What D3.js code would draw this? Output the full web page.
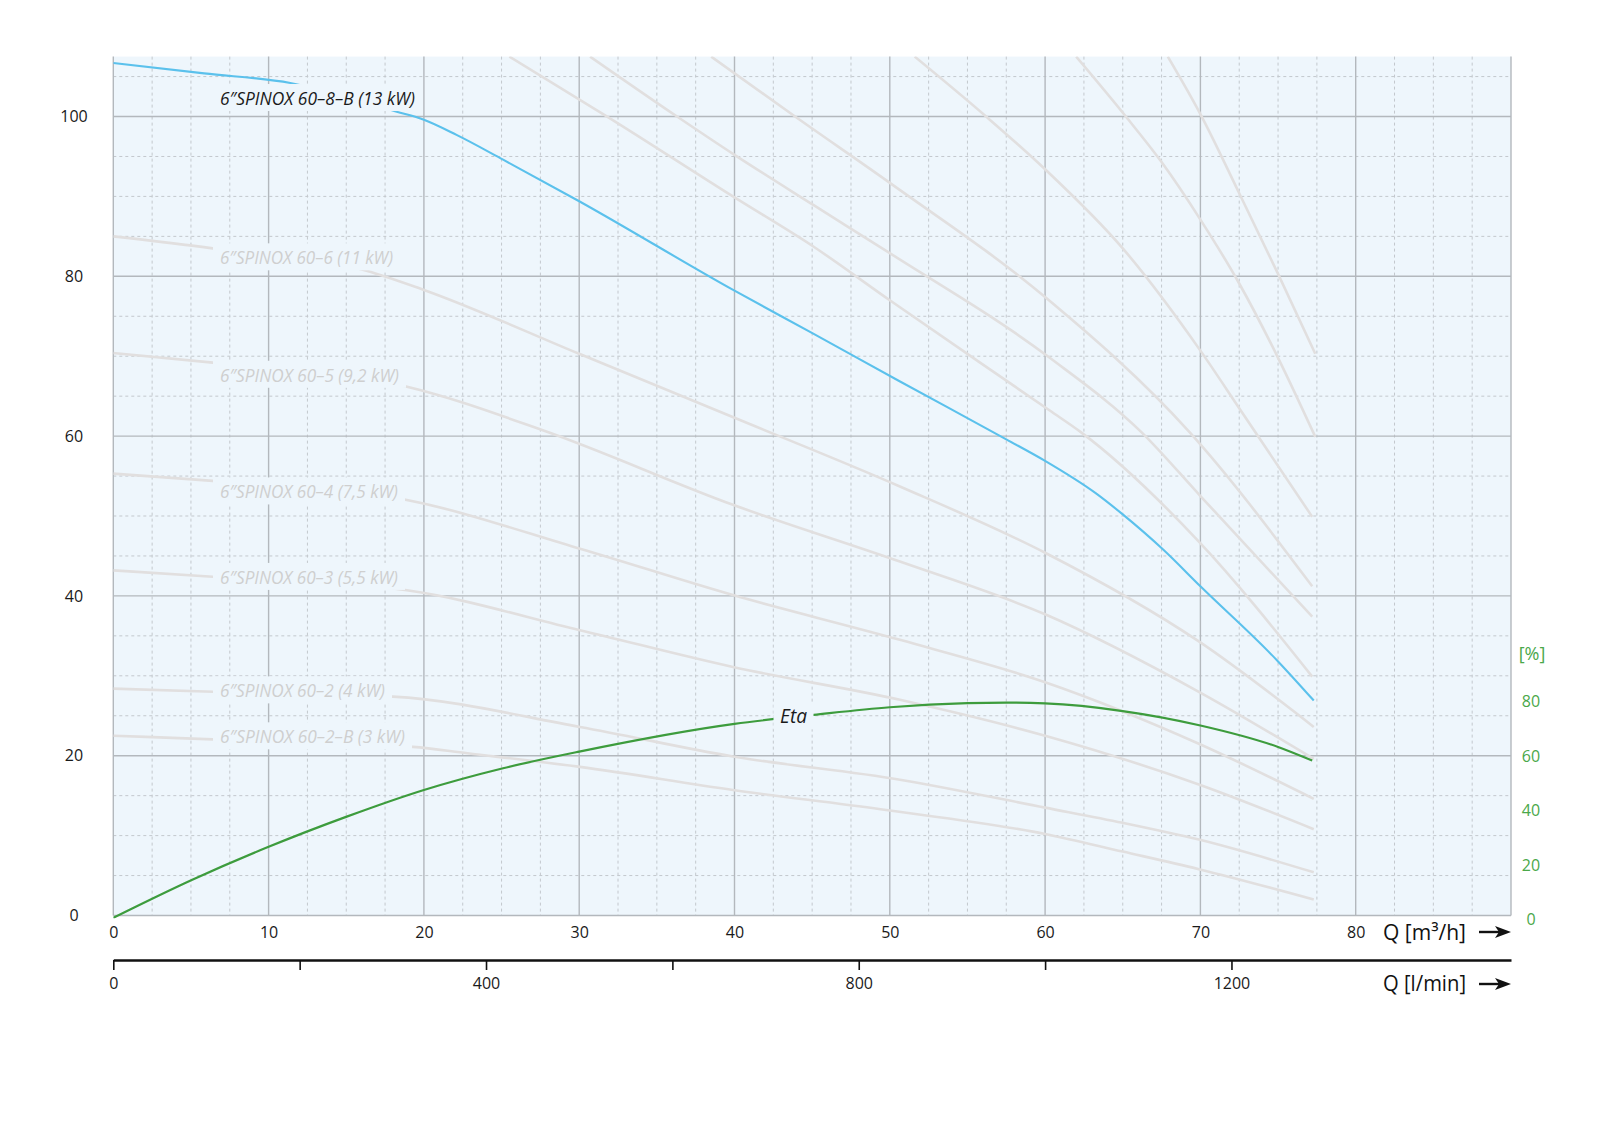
<!DOCTYPE html>
<html><head><meta charset="utf-8">
<script src="https://cdn.jsdelivr.net/npm/d3@7"></script>
<style>
body{margin:0;background:#fff;}
svg{display:block;}
text{font-family:"Open Sans","Noto Sans",sans-serif;}
</style></head><body>
<svg id="chart" width="1600" height="1143"></svg>
<script>
// ---------------- DATA ----------------
const qTicks = [0, 10, 20, 30, 40, 50, 60, 70, 80];          // m3/h
const hTicks = [0, 20, 40, 60, 80, 100];                      // m
const etaTicks = [0, 20, 40, 60, 80];                         // %
const lminTicks = [0, 200, 400, 600, 800, 1000, 1200];        // l/min
const lminLabels = ["0", "", "400", "", "800", "", "1200"];

// labelled grey curves (Q m3/h, H m)
const q_60_2B = [0, 6.4, 19.3, 22.8, 30.05, 39.9, 49.4, 60, 65, 69.9, 77.3];
const h_60_2B = [22.5, 22.05, 21.1, 20.3, 18.6, 15.7, 13.3, 10.2, 8.0, 5.8, 2.0];
const q_60_2 = [0, 6.4, 18.0, 30.05, 39.9, 50.65, 60, 65, 69.9, 77.3];
const h_60_2 = [28.4, 28.0, 27.4, 23.6, 19.9, 17.0, 13.5, 11.6, 9.5, 5.4];
const q_60_3 = [0, 6.4, 18.9, 30.05, 39.9, 50.65, 60, 69.9, 77.3];
const h_60_3 = [43.2, 42.4, 40.7, 35.7, 31.1, 27.0, 22.5, 16.4, 10.8];
const q_60_4 = [0, 6.4, 18.9, 30.05, 39.9, 50.65, 60, 69.9, 77.3];
const h_60_4 = [55.3, 54.4, 52.0, 45.9, 40.1, 34.5, 29.2, 21.5, 14.6];
const q_60_5 = [0, 6.4, 18.85, 27.7, 39.9, 50.65, 60, 69.9, 77.3];
const h_60_5 = [70.4, 69.2, 66.2, 60.7, 51.4, 44.3, 37.7, 28.0, 19.6];
const q_60_6 = [0, 6.4, 16.3, 20, 30, 40, 50.65, 60, 69.9, 77.3];
const h_60_6 = [85.0, 83.5, 80.7, 78.3, 70.3, 62.3, 53.7, 45.4, 34.3, 23.6];

// unlabelled grey curves entering from the top
const q_top1 = [25.5, 31.8, 39.9, 45.1, 50, 60.3, 62.3, 69.9, 77.2];
const h_top1 = [107.5, 100, 90.0, 83.7, 77.0, 63.2, 60.5, 46.8, 29.9];
const q_top2 = [30.7, 36.3, 40, 45.1, 50, 60.3, 66.2, 70, 77.2];
const h_top2 = [107.5, 100, 95.2, 88.9, 82.9, 69.8, 60.5, 52.5, 37.4];
const q_top3 = [38.5, 43.9, 50, 60, 69.3, 77.2];
const h_top3 = [107.5, 100, 91.7, 77.4, 60.5, 41.2];
const q_top4 = [51.6, 56.2, 60, 65, 70, 72.5, 77.2];
const h_top4 = [107.5, 100, 93.4, 83.5, 70.7, 63.5, 49.9];
const q_top5 = [62, 65.2, 67.5, 70, 72.5, 75, 77.4];
const h_top5 = [107.5, 100, 94.3, 87.1, 79.1, 69.8, 59.9];
const q_top6 = [67.9, 70, 72.5, 75, 77.4];
const h_top6 = [107.5, 100.3, 90.4, 80.3, 70.3];

// highlighted pump 60-8-B
const q_60_8B = [0, 5.85, 11.4, 18.25, 20, 22.1, 25.1, 30, 40, 45.1, 50.6, 57.5, 60, 63.3, 65, 67.6, 70, 75, 77.3];
const h_60_8B = [106.7, 105.4, 104.2, 100.6, 99.6, 97.7, 94.6, 89.4, 78.2, 72.8, 66.9, 59.6, 56.9, 52.8, 50.2, 45.8, 41.2, 31.8, 26.9];

// efficiency (%)
const q_eta = [0, 5.05, 10, 15.03, 20, 25.1, 30, 40, 45.1, 50, 55, 57.5, 60, 65, 70, 75, 77.2];
const eta = [0, 13.9, 26.1, 37.2, 47.0, 55.0, 61.1, 71.3, 74.6, 77.4, 78.9, 79.1, 78.8, 76.0, 70.7, 62.8, 57.8];

// curve labels: text, Q anchor, H anchor (baseline)
const labelTexts = ["6″SPINOX 60–8–B (13 kW)", "6″SPINOX 60–6 (11 kW)", "6″SPINOX 60–5 (9,2 kW)",
  "6″SPINOX 60–4 (7,5 kW)", "6″SPINOX 60–3 (5,5 kW)", "6″SPINOX 60–2 (4 kW)", "6″SPINOX 60–2–B (3 kW)"];
const labelQ = [6.87, 6.87, 6.87, 6.87, 6.87, 6.87, 6.87];
const labelH = [101.44, 81.5, 66.8, 52.2, 41.5, 27.3, 21.55];
const etaLabel = "Eta";
const etaLabelQ = 43.8;
const etaLabelPct = 71.5;

// ---------------- STYLE ----------------
const labelWidths = [195, 173, 179, 178, 178, 165, 185];
const labelColors = ["#1a1a1a", "#cfcfcf", "#cfcfcf", "#cfcfcf", "#cfcfcf", "#cfcfcf", "#cfcfcf"];
const bg = "#eef6fc";
const greyCurve = "#e1dfdf";
const blue = "#5bc1ec";
const green = "#3d9c3d";
const greenText = "#4aa84a";

const svg = d3.select("#chart");
const x = d3.scaleLinear().domain([0, 90]).range([113.3, 1511]);
const y = d3.scaleLinear().domain([0, 107.5]).range([915.5, 56.6]);
const yEta = d3.scaleLinear().domain([0, 100]).range([917.8, 645.8]);
const xL = d3.scaleLinear().domain([0, 1500]).range([113.3, 1511]);

svg.append("defs").append("clipPath").attr("id", "plotclip")
  .append("rect").attr("x", x(0)).attr("y", y(107.5)).attr("width", x(90) - x(0)).attr("height", y(0) - y(107.5) + 3);

svg.append("rect").attr("x", x(0)).attr("y", y(107.5)).attr("width", x(90) - x(0)).attr("height", y(0) - y(107.5)).attr("fill", bg);

// grid
const g = svg.append("g");
const minorX = d3.range(0, 90.01, 2.5).filter(v => Math.abs(v % 10) > 0.01);
const majorX = d3.range(0, 90.01, 10);
const minorY = d3.range(0, 107.5, 5).filter(v => v % 20 !== 0);
const majorY = d3.range(0, 100.01, 20);
g.selectAll(".mx").data(minorX).join("line").attr("x1", d => x(d)).attr("x2", d => x(d))
  .attr("y1", y(107.5)).attr("y2", y(0)).attr("stroke", "#c3c8cd").attr("stroke-width", 1).attr("stroke-dasharray", "3,3");
g.selectAll(".my").data(minorY).join("line").attr("y1", d => y(d)).attr("y2", d => y(d))
  .attr("x1", x(0)).attr("x2", x(90)).attr("stroke", "#c3c8cd").attr("stroke-width", 1).attr("stroke-dasharray", "3,3");
g.selectAll(".Mx").data(majorX).join("line").attr("x1", d => x(d)).attr("x2", d => x(d))
  .attr("y1", y(107.5)).attr("y2", y(0)).attr("stroke", "#b3b8bd").attr("stroke-width", 1.4);
g.selectAll(".My").data(majorY).join("line").attr("y1", d => y(d)).attr("y2", d => y(d))
  .attr("x1", x(0)).attr("x2", x(90)).attr("stroke", "#b3b8bd").attr("stroke-width", 1.4);

// curves
const line = d3.line().x(d => x(d[0])).y(d => y(d[1])).curve(d3.curveMonotoneX);
const zip = (a, b) => a.map((v, i) => [v, b[i]]);
const greyCurves = [[q_60_2B, h_60_2B], [q_60_2, h_60_2], [q_60_3, h_60_3], [q_60_4, h_60_4], [q_60_5, h_60_5], [q_60_6, h_60_6],
  [q_top1, h_top1], [q_top2, h_top2], [q_top3, h_top3], [q_top4, h_top4], [q_top5, h_top5], [q_top6, h_top6]];
const cg = svg.append("g").attr("clip-path", "url(#plotclip)");
cg.selectAll(".grey").data(greyCurves).join("path").attr("d", d => line(zip(d[0], d[1])))
  .attr("fill", "none").attr("stroke", greyCurve).attr("stroke-width", 2.6);
cg.append("path").attr("d", line(zip(q_60_8B, h_60_8B))).attr("fill", "none").attr("stroke", blue).attr("stroke-width", 2.1);
const etaLine = d3.line().x(d => x(d[0])).y(d => yEta(d[1])).curve(d3.curveMonotoneX);
cg.append("path").attr("d", etaLine(zip(q_eta, eta))).attr("fill", "none").attr("stroke", green).attr("stroke-width", 2.2);

// labels with knockout
const lg = svg.append("g");
const fs = 19;
labelTexts.forEach((t, i) => {
  const lx = x(labelQ[i]), ly = y(labelH[i]);
  lg.append("rect").attr("x", lx - 7).attr("y", ly - 21).attr("width", labelWidths[i] + 14).attr("height", 27).attr("fill", bg);
  lg.append("text").attr("x", lx).attr("y", ly).attr("font-size", fs).attr("font-style", "italic")
    .attr("fill", labelColors[i]).attr("textLength", labelWidths[i]).attr("lengthAdjust", "spacingAndGlyphs").text(t);
});
{
  const ex = x(etaLabelQ), ey = yEta(etaLabelPct);
  lg.append("rect").attr("x", ex - 20).attr("y", ey - 21).attr("width", 40).attr("height", 27).attr("fill", bg);
  lg.append("text").attr("x", ex).attr("y", ey).attr("text-anchor", "middle").attr("font-size", 20)
    .attr("font-style", "italic").attr("fill", "#1a1a1a").attr("textLength", 27).attr("lengthAdjust", "spacingAndGlyphs").text(etaLabel);
}

// axes
const ax = svg.append("g").attr("transform", `translate(0,${y(0)})`)
  .call(d3.axisBottom(x).tickValues(qTicks).tickSize(0).tickPadding(11).tickFormat(d3.format("d")));
ax.select(".domain").remove();
ax.selectAll("text").attr("font-size", 16).attr("fill", "#1a1a1a").attr("font-family", "Open Sans");

const ay = svg.append("g").attr("transform", `translate(${x(0)},0)`)
  .call(d3.axisLeft(y).tickValues(hTicks).tickSize(0).tickFormat(d3.format("d")));
ay.select(".domain").remove();
ay.selectAll("text").attr("font-size", 16).attr("fill", "#1a1a1a").attr("text-anchor", "middle").attr("x", 74 - x(0)).attr("font-family", "Open Sans");

const ae = svg.append("g").attr("transform", `translate(${x(90)},0)`)
  .call(d3.axisRight(yEta).tickValues(etaTicks).tickSize(0).tickFormat(d3.format("d")));
ae.select(".domain").remove();
ae.selectAll("text").attr("font-size", 16).attr("fill", greenText).attr("text-anchor", "middle").attr("x", 20).attr("dy", "0.42em").attr("font-family", "Open Sans");
svg.append("text").attr("x", 1532).attr("y", yEta(97) + 6).attr("text-anchor", "middle").attr("font-size", 18)
  .attr("fill", greenText).text("[%]");

const al = svg.append("g").attr("transform", "translate(0,960)")
  .call(d3.axisBottom(xL).tickValues(lminTicks).tickSize(10).tickSizeOuter(0).tickPadding(8).tickFormat((d, i) => lminLabels[i]));
al.select(".domain").attr("stroke", "#111").attr("stroke-width", 2.6);
al.selectAll(".tick line").attr("stroke", "#111").attr("stroke-width", 1.6);
al.selectAll("text").attr("font-size", 16).attr("fill", "#1a1a1a").attr("font-family", "Open Sans");

// axis titles with arrows
function arrow(yy) {
  svg.append("line").attr("x1", 1479).attr("x2", 1500).attr("y1", yy).attr("y2", yy).attr("stroke", "#111").attr("stroke-width", 2.4);
  svg.append("path").attr("d", `M1511,${yy} L1495,${yy - 6} L1499,${yy} L1495,${yy + 6} Z`).attr("fill", "#111");
}
svg.append("text").attr("x", 1383).attr("y", 939.5).attr("font-size", 21).attr("fill", "#111")
  .attr("textLength", 83).attr("lengthAdjust", "spacingAndGlyphs").text("Q [m³/h]");
arrow(932);
svg.append("text").attr("x", 1383).attr("y", 991).attr("font-size", 21).attr("fill", "#111")
  .attr("textLength", 83).attr("lengthAdjust", "spacingAndGlyphs").text("Q [l/min]");
arrow(984);
</script>
</body></html>
